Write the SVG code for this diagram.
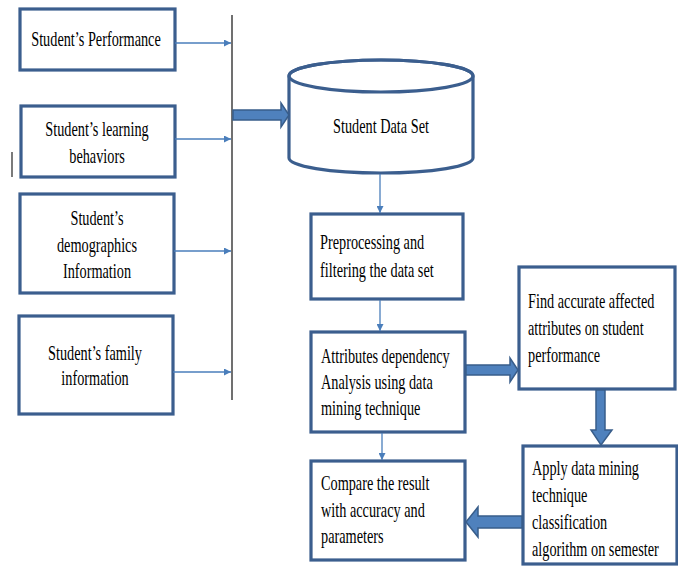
<svg xmlns="http://www.w3.org/2000/svg" width="678" height="567" viewBox="0 0 678 567">
<defs>
<style>
.box{fill:#fff;stroke:#3b5e8e;stroke-width:3.2}
.t{font-family:"Liberation Serif","Times New Roman",serif;font-size:21px;fill:#000}
.c{text-anchor:middle}
.thin{stroke:#4a7ebb;stroke-width:1.3;fill:none;marker-end:url(#ah)}
.thick{fill:#4f81bd;stroke:#385d8a;stroke-width:1.5}
</style>
<marker id="ah" viewBox="0 0 10 10" refX="10" refY="5" markerWidth="7" markerHeight="7" markerUnits="userSpaceOnUse" orient="auto">
<path d="M0,0 L10,5 L0,10 z" fill="#4a7ebb"/>
</marker>
</defs>
<rect width="678" height="567" fill="#fff"/>

<g id="bus">
<line x1="232" y1="15" x2="232" y2="400" stroke="#404040" stroke-width="1.5"/>
<line x1="12" y1="152" x2="12" y2="177" stroke="#222" stroke-width="1.2"/>
</g>

<g id="n1">
<rect class="box" x="20" y="9" width="155" height="61"/>
<text class="t c" transform="translate(96,46) scale(0.68,1)">Student’s Performance</text>
</g>
<g id="n2">
<rect class="box" x="21" y="106" width="154" height="71"/>
<text class="t c" transform="translate(97,136) scale(0.68,1)">Student’s learning</text>
<text class="t c" transform="translate(97,163) scale(0.68,1)">behaviors</text>
</g>
<g id="n3">
<rect class="box" x="20" y="194" width="154" height="99"/>
<text class="t c" transform="translate(97,225) scale(0.68,1)">Student’s</text>
<text class="t c" transform="translate(97,252) scale(0.68,1)">demographics</text>
<text class="t c" transform="translate(97,278) scale(0.68,1)">Information</text>
</g>
<g id="n4">
<rect class="box" x="19" y="316" width="154" height="98"/>
<text class="t c" transform="translate(95,360) scale(0.68,1)">Student’s family</text>
<text class="t c" transform="translate(95,385) scale(0.68,1)">information</text>
</g>

<g id="n5">
<path class="box" d="M289,76 L289,158 A92,15 0 0 0 473,158 L473,76 A92,16 0 0 0 289,76 Z"/>
<ellipse cx="381" cy="76" rx="92" ry="16" fill="none" stroke="#3b5e8e" stroke-width="3.2"/>
<text class="t c" transform="translate(381,133) scale(0.68,1)">Student Data Set</text>
</g>

<g id="n6">
<rect class="box" x="311" y="214" width="152" height="85"/>
<text class="t" transform="translate(320,249) scale(0.68,1)">Preprocessing and</text>
<text class="t" transform="translate(320,277) scale(0.68,1)">filtering the data set</text>
</g>
<g id="n7">
<rect class="box" x="311" y="332" width="154" height="100"/>
<text class="t" transform="translate(321,363) scale(0.68,1)">Attributes dependency</text>
<text class="t" transform="translate(321,389) scale(0.68,1)">Analysis using data</text>
<text class="t" transform="translate(321,415) scale(0.68,1)">mining technique</text>
</g>
<g id="n8">
<rect class="box" x="311" y="461" width="154" height="99"/>
<text class="t" transform="translate(321,490) scale(0.68,1)">Compare the result</text>
<text class="t" transform="translate(321,517) scale(0.68,1)">with accuracy and</text>
<text class="t" transform="translate(321,543) scale(0.68,1)">parameters</text>
</g>
<g id="n9">
<rect class="box" x="519" y="267" width="156" height="122"/>
<text class="t" transform="translate(528,308) scale(0.68,1)">Find accurate affected</text>
<text class="t" transform="translate(528,335) scale(0.68,1)">attributes on student</text>
<text class="t" transform="translate(528,362) scale(0.68,1)">performance</text>
</g>
<g id="n10">
<rect class="box" x="523" y="446" width="154" height="118"/>
<text class="t" transform="translate(532,475) scale(0.68,1)">Apply data mining</text>
<text class="t" transform="translate(532,502) scale(0.68,1)">technique</text>
<text class="t" transform="translate(532,529) scale(0.68,1)">classification</text>
<text class="t" transform="translate(532,556) scale(0.68,1)">algorithm on semester</text>
</g>

<g id="connectors">
<line class="thin" x1="175" y1="43" x2="231" y2="43"/>
<line class="thin" x1="175" y1="139" x2="231" y2="139"/>
<line class="thin" x1="174" y1="251" x2="231" y2="251"/>
<line class="thin" x1="173" y1="372" x2="231" y2="372"/>
<line class="thin" x1="380" y1="174" x2="380" y2="213"/>
<line class="thin" x1="380" y1="300" x2="380" y2="331"/>
<line class="thin" x1="382" y1="433" x2="382" y2="460"/>
<polygon class="thick" points="233,110 281,110 281,103 289,115 281,127 281,120 233,120"/>
<polygon class="thick" points="466,365 510,365 510,358 518,370 510,382 510,375 466,375"/>
<polygon class="thick" points="596,390 605,390 605,430 612,430 601,445 591,430 596,430"/>
<polygon class="thick" points="522,516 478,516 478,507 466,522 478,537 478,528 522,528"/>
</g>
</svg>
